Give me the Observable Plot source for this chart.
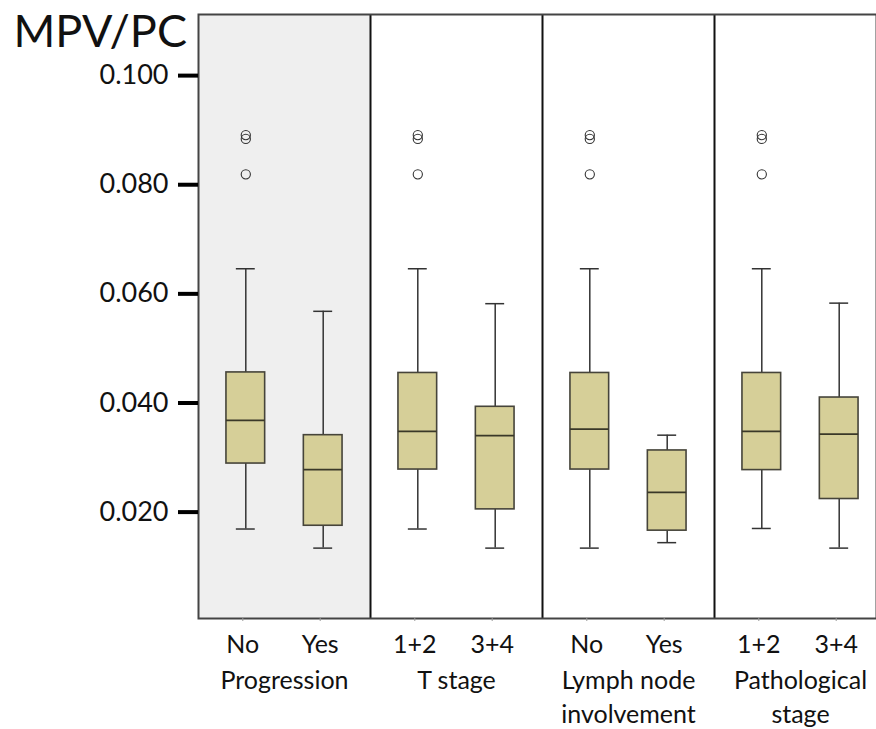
<!DOCTYPE html>
<html><head><meta charset="utf-8">
<script src="https://cdn.jsdelivr.net/npm/d3@7"></script>
<script src="https://cdn.jsdelivr.net/npm/@observablehq/plot@0.6"></script>
<style>
html,body{margin:0;padding:0;background:#fff;}
#chart{width:876px;height:729px;overflow:hidden;}
</style></head><body><div id="chart"></div>
<script>
const title = "MPV/PC";
const groups = ["Progression", "T stage", "Lymph node\ninvolvement", "Pathological\nstage"];
const boxGroup = [0, 0, 1, 1, 2, 2, 3, 3];
const boxSlot = [0, 1, 0, 1, 0, 1, 0, 1];
const categories = ["No", "Yes", "1+2", "3+4", "No", "Yes", "1+2", "3+4"];
const whiskerLow  = [0.0169, 0.0134, 0.0169, 0.0134, 0.0134, 0.0144, 0.0170, 0.0134];
const q1          = [0.0289, 0.0175, 0.0278, 0.0205, 0.0278, 0.0166, 0.0277, 0.0224];
const median      = [0.0368, 0.0278, 0.0348, 0.0340, 0.0352, 0.0236, 0.0348, 0.0343];
const q3          = [0.0456, 0.0341, 0.0455, 0.0393, 0.0455, 0.0313, 0.0455, 0.0410];
const whiskerHigh = [0.0646, 0.0568, 0.0646, 0.0582, 0.0646, 0.0341, 0.0646, 0.0583];
const outlierBox   = [0, 0, 0, 2, 2, 2, 4, 4, 4, 6, 6, 6];
const outlierValue = [0.0891, 0.0884, 0.0819, 0.0891, 0.0884, 0.0819, 0.0891, 0.0884, 0.0819, 0.0891, 0.0884, 0.0819];
const yTicks = [0.020, 0.040, 0.060, 0.080, 0.100];
const yDomain = [0.0005, 0.1112];

const boxHalf = 0.225, capHalf = 0.11;
const center = i => boxGroup[i] * 2 + (boxSlot[i] ? 1.45 : 0.55);
const boxes = categories.map((c, i) => ({
  cx: center(i), cat: c, lo: whiskerLow[i], q1: q1[i], med: median[i], q3: q3[i], hi: whiskerHigh[i]
}));
const outliers = outlierBox.map((b, i) => ({cx: center(b), v: outlierValue[i]}));
const labelOf = new Map(boxes.map(b => [b.cx, b.cat]));
const separators = groups.slice(1).map((_, i) => (i + 1) * 2);

const lineColor = "#333";
const chart = Plot.plot({
  width: 876, height: 729,
  marginTop: 14, marginBottom: 111, marginLeft: 198, marginRight: 0,
  style: {fontFamily: "Lato, 'Open Sans', sans-serif", background: "white", color: "#111", overflow: "hidden"},
  x: {domain: [0, 8], range: [198, 886], axis: null},
  y: {domain: yDomain, axis: null},
  marks: [
    Plot.rect([0], {x1: g => g * 2, x2: g => g * 2 + 2, y1: yDomain[0], y2: yDomain[1], fill: "#efefef"}),
    Plot.ruleX(separators, {stroke: "#111", strokeWidth: 2}),
    Plot.frame({stroke: "#444", strokeWidth: 2}),
    Plot.ruleX(boxes, {x: "cx", y1: "q3", y2: "hi", stroke: lineColor, strokeWidth: 1.5}),
    Plot.ruleX(boxes, {x: "cx", y1: "lo", y2: "q1", stroke: lineColor, strokeWidth: 1.5}),
    Plot.ruleY(boxes, {y: "hi", x1: d => d.cx - capHalf, x2: d => d.cx + capHalf, stroke: lineColor, strokeWidth: 1.5}),
    Plot.ruleY(boxes, {y: "lo", x1: d => d.cx - capHalf, x2: d => d.cx + capHalf, stroke: lineColor, strokeWidth: 1.5}),
    Plot.rect(boxes, {x1: d => d.cx - boxHalf, x2: d => d.cx + boxHalf, y1: "q1", y2: "q3", fill: "#d6cf98", stroke: "#46443a", strokeWidth: 1.6}),
    Plot.ruleY(boxes, {y: "med", x1: d => d.cx - boxHalf, x2: d => d.cx + boxHalf, stroke: "#3a3828", strokeWidth: 1.8}),
    Plot.dot(outliers, {x: "cx", y: "v", r: 4.6, stroke: "#333", strokeWidth: 1.1, fill: "none"}),
    Plot.axisY(yTicks, {anchor: "left", tickFormat: d3.format(".3f"), tickSize: 20, tickPadding: 10, strokeWidth: 4, stroke: "#000", fill: "#111", fontSize: 27, label: null}),
    Plot.axisX(boxes.map(b => b.cx), {anchor: "bottom", tickSize: 3, tickPadding: 14, stroke: "#999", fill: "#111", fontSize: 25, tickFormat: d => labelOf.get(d), dx: -3, label: null}),
    Plot.text(groups, {x: (d, i) => i * 2 + 1, frameAnchor: "bottom", lineAnchor: "top", dy: 46, fontSize: 25, lineHeight: 1.38, fill: "#111"}),
    Plot.text([title], {frameAnchor: "top-left", textAnchor: "start", lineAnchor: "top", dx: -185, dy: 1, fontSize: 45, fill: "#111"})
  ]
});
document.getElementById("chart").appendChild(chart);
</script></body></html>
